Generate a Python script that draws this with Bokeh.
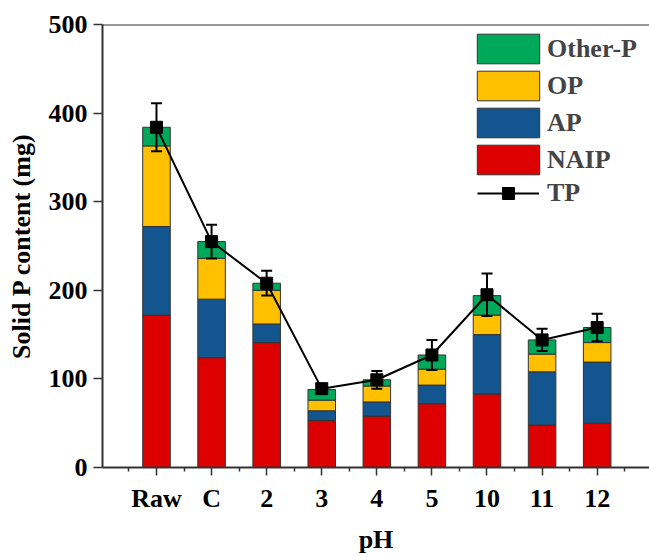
from bokeh.plotting import figure
from bokeh.models import (ColumnDataSource, Range1d, FixedTicker, Whisker, TeeHead,
                          Legend, LegendItem, Span)
from bokeh.embed import file_html
from bokeh.resources import INLINE

categories = ["Raw", "C", "2", "3", "4", "5", "10", "11", "12"]
naip = [172, 124, 141, 53, 58, 72, 83, 48, 50]
ap = [100, 66, 21, 11, 16, 21, 67, 60, 69]
op = [91, 46, 38, 12, 18, 18, 22, 20, 22]
other_p = [21, 19, 8, 12, 7, 16, 22, 16, 17]
tp = [384, 255, 208, 89, 99, 127, 195, 144, 158]
tp_err = [27, 19, 14, 4, 10, 17, 24, 12.5, 15.5]
y_ticks = [0, 100, 200, 300, 400, 500]

FONT = "Liberation Serif"
AX = "#333333"
colors = {"NAIP": "#DD0000", "AP": "#13568F", "OP": "#FFC000", "Other-P": "#00A85A"}

xs = list(range(len(categories)))
src = ColumnDataSource(dict(
    x=xs, NAIP=naip, AP=ap, OP=op, Other=other_p, tp=tp,
    upper=[t + e for t, e in zip(tp, tp_err)],
    lower=[t - e for t, e in zip(tp, tp_err)],
))

p = figure(width=649, height=557, output_backend="svg", toolbar_location=None,
           x_range=Range1d(-0.98, 8.95), y_range=Range1d(0, 500),
           min_border_left=102, min_border_right=0, min_border_top=24,
           min_border_bottom=90)
p.outline_line_color = None
p.grid.grid_line_color = None
p.background_fill_color = "white"

stack_cols = ["NAIP", "AP", "OP", "Other"]
stack_colors = [colors["NAIP"], colors["AP"], colors["OP"], colors["Other-P"]]
bars = p.vbar_stack(stack_cols, x="x", width=0.5, source=src, color=stack_colors,
                    line_color=AX, line_width=1)

wh = Whisker(base="x", upper="upper", lower="lower", source=src, line_color="black",
             line_width=2, level="annotation",
             upper_head=TeeHead(size=11, line_width=2, line_color="black"),
             lower_head=TeeHead(size=11, line_width=2, line_color="black"))
p.add_layout(wh)

ln = p.line("x", "tp", source=src, line_color="black", line_width=2)
sc = p.scatter("x", "tp", source=src, marker="square", size=12, color="black")

p.add_layout(Span(location=500, dimension="width", line_color=AX, line_width=2))

# axes
for ax in (p.xaxis[0], p.yaxis[0]):
    ax.axis_line_color = AX
    ax.axis_line_width = 2
    ax.major_tick_line_color = AX
    ax.major_tick_line_width = 1.5
    ax.minor_tick_line_color = AX
    ax.minor_tick_line_width = 1.5
    ax.major_tick_in = 0
    ax.minor_tick_in = 0
    ax.major_label_text_font = FONT
    ax.major_label_text_font_style = "bold"
    ax.major_label_text_font_size = "26px"
    ax.major_label_text_color = "black"
    ax.axis_label_text_font = FONT
    ax.axis_label_text_font_style = "bold"
    ax.axis_label_text_font_size = "26px"
    ax.axis_label_text_color = "black"

p.xaxis.ticker = FixedTicker(ticks=xs, minor_ticks=[i - 0.5 for i in range(len(categories) + 1)])
p.xaxis.major_label_overrides = {i: c for i, c in enumerate(categories)}
p.xaxis.major_tick_out = 8
p.xaxis.minor_tick_out = 4
p.xaxis.major_label_standoff = 8
p.xaxis.axis_label = "pH"
p.xaxis.axis_label_standoff = 9

p.yaxis.ticker = FixedTicker(ticks=y_ticks)
p.yaxis.minor_tick_line_color = None
p.yaxis.major_tick_out = 9
p.yaxis.major_label_standoff = 6
p.yaxis.axis_label = "Solid P content (mg)"
p.yaxis.axis_label_standoff = 10

legend_style = dict(padding=0, margin=0, label_text_font=FONT, label_text_font_style="bold",
                    label_text_font_size="26px", border_line_color=None,
                    background_fill_alpha=0)

legend_bars = Legend(items=[
    LegendItem(label="Other-P", renderers=[bars[3]]),
    LegendItem(label="OP", renderers=[bars[2]]),
    LegendItem(label="AP", renderers=[bars[1]]),
    LegendItem(label="NAIP", renderers=[bars[0]]),
], location=(367, 289), spacing=0, glyph_width=78, glyph_height=37,
    label_standoff=0, **legend_style)
p.add_layout(legend_bars)

legend_tp = Legend(items=[
    LegendItem(label="TP", renderers=[ln, sc]),
], location=(375, 259), spacing=0, glyph_width=62, glyph_height=30,
    label_standoff=8, **legend_style)
p.add_layout(legend_tp)

open("out.html", "w").write(file_html(p, INLINE))
